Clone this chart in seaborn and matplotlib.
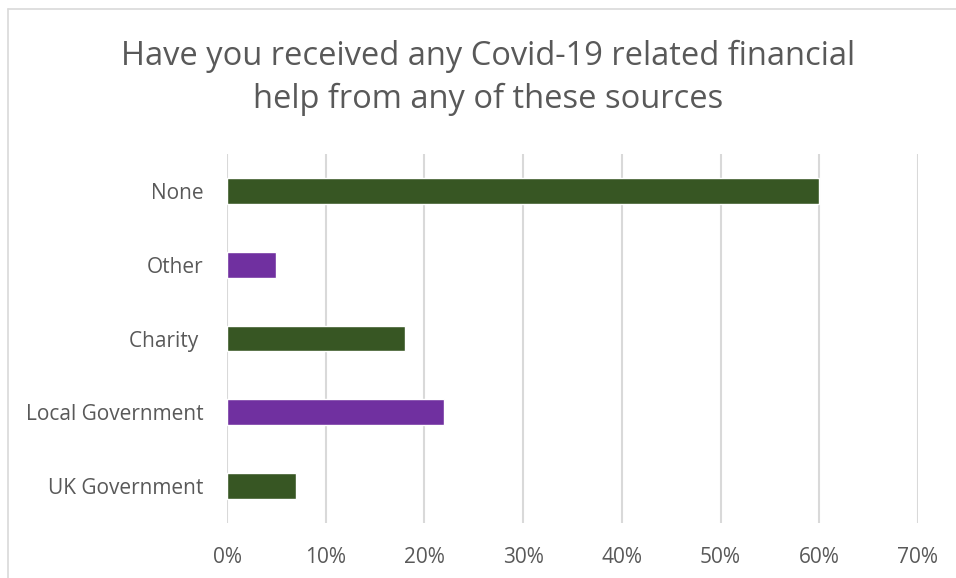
import matplotlib
matplotlib.use("Agg")
import matplotlib.pyplot as plt
from matplotlib.lines import Line2D
from matplotlib.ticker import FuncFormatter, MultipleLocator
import seaborn as sns
import pandas as pd

# Survey responses: share of respondents per source of help
sources = ["None", "Other", "Charity ", "Local Government", "UK Government"]
shares = [0.60, 0.05, 0.18, 0.22, 0.07]
bar_colors = ["#375623", "#7030A0", "#375623", "#7030A0", "#375623"]

title = "Have you received any Covid-19 related financial\nhelp from any of these sources"

sns.set_theme(style="white")
plt.rcParams["font.family"] = ["Open Sans", "DejaVu Sans"]

text_grey = "#595959"
grid_grey = "#d9d9d9"

df = pd.DataFrame({"source": sources, "share": shares})

fig = plt.figure(figsize=(9.56, 5.78), dpi=100)
ax = fig.add_axes([227 / 956, 1 - 523 / 578, (918 - 227) / 956, (523 - 154) / 578])

sns.barplot(
    data=df, y="source", x="share", hue="source", order=sources,
    palette=dict(zip(sources, bar_colors)), legend=False,
    width=0.35, saturation=1, ax=ax, zorder=3,
)

ax.set_xlim(0, 0.70)
ax.xaxis.set_major_locator(MultipleLocator(0.10))
ax.xaxis.set_major_formatter(FuncFormatter(lambda v, _: f"{v * 100:.0f}%"))
ax.grid(axis="x", color=grid_grey, linewidth=1.5, zorder=0)
ax.grid(axis="y", visible=False)
for side in ax.spines.values():
    side.set_visible(False)

ax.set_xlabel("")
ax.set_ylabel("")
ax.tick_params(axis="x", length=0, pad=17, labelsize=15, labelcolor=text_grey)
ax.tick_params(axis="y", length=0, pad=17, labelsize=15, labelcolor=text_grey)

fig.text(488.5 / 956, 1 - 78 / 578, title, ha="center", va="center",
         fontsize=23.5, color=text_grey, linespacing=1.38)

# Chart-area frame (top and left edges)
fig.add_artist(Line2D([8 / 956, 1.0], [1 - 9 / 578] * 2, color=grid_grey,
                      linewidth=1.2, transform=fig.transFigure))
fig.add_artist(Line2D([8 / 956] * 2, [0.0, 1 - 9 / 578], color=grid_grey,
                      linewidth=1.2, transform=fig.transFigure))

fig.savefig("out.png", dpi=100, facecolor="white")
